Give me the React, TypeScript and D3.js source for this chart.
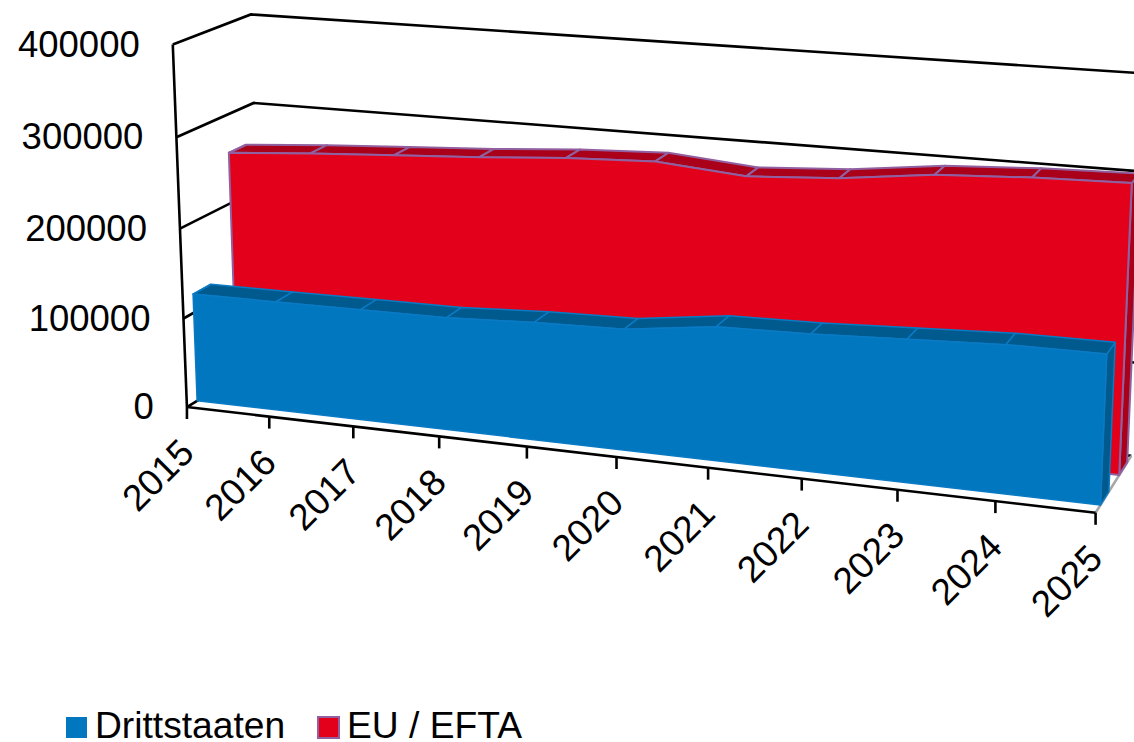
import React from "react";
import * as d3 from "d3";

const years = ["2015","2016","2017","2018","2019","2020","2021","2022","2023","2024","2025"];
const drittstaaten = [121000,121600,122500,123300,128000,130500,143000,145000,149500,154000,154500];
const euEfta = [257000,264000,269500,275000,282000,286000,278000,284000,295500,300500,303000];
const valueTicks = [0,100000,200000,300000,400000];
const legendNames = ["Drittstaaten","EU / EFTA"];

const W = 1134, H = 742;
const FONT = "'Liberation Sans', Arial, sans-serif";
const FS = 36.5;
const LEGEND_FS = 37.2;

// Camera calibration: box corners (x 0..1, value 0..1, depth 0..1) -> screen
const calibration: [number,number,number,number,number][] = [
  [0,0,0,189,406],[0,1,0,171,42],[1,0,0,1094,513],[1,1,0,1118,118],
  [0,0,1,261,366],[0,1,1,253,14],[1,0,1,1136,454],[1,1,1,1142,70],
  [0.2,0,0,353,425],[0.5,0,0,615,456],[0.8,0,0,895,489],
];

function solve(A:number[][], b:number[]):number[]{
  const n=b.length; const M=A.map((r,i)=>[...r,b[i]]);
  for(let c=0;c<n;c++){
    let p=c; for(let r=c+1;r<n;r++) if(Math.abs(M[r][c])>Math.abs(M[p][c])) p=r;
    [M[c],M[p]]=[M[p],M[c]];
    for(let r=0;r<n;r++){ if(r===c) continue; const f=M[r][c]/M[c][c];
      for(let k=c;k<=n;k++) M[r][k]-=f*M[c][k]; }
  }
  return M.map((r,i)=>r[n]/r[i]);
}
function fitCamera(){
  const rows:number[][]=[]; const rhs:number[]=[];
  for(const [x,y,z,u,v] of calibration){
    rows.push([x,y,z,1,0,0,0,0,-u*x,-u*y,-u*z]); rhs.push(u);
    rows.push([0,0,0,0,x,y,z,1,-v*x,-v*y,-v*z]); rhs.push(v);
  }
  const n=11; const A=d3.range(n).map(i=>d3.range(n).map(j=>d3.sum(rows,r=>r[i]*r[j])));
  const b=d3.range(n).map(i=>d3.sum(rows,(r,k)=>r[i]*rhs[k]));
  return solve(A,b);
}
const P=fitCamera();
const project=(x:number,y:number,z:number):[number,number]=>{
  const w=P[8]*x+P[9]*y+P[10]*z+1;
  return [(P[0]*x+P[1]*y+P[2]*z+P[3])/w,(P[4]*x+P[5]*y+P[6]*z+P[7])/w];
};

const xS=d3.scalePoint<string>().domain(years).range([0,1]);
const yS=d3.scaleLinear().domain([0,400000]).range([0,1]);
const line=d3.line();

const BLUE={front:"#0077BF",top:"#005A8E",side:"#005A8E",edge:"#0A7AC4",z0:0.13,z1:0.36,sw:1.5};
const RED={front:"#E2001A",top:"#AB0019",side:"#AB0019",edge:"#9060A0",z0:0.65,z1:0.88,sw:2};

function AreaBlock({values,c}:{values:number[];c:typeof BLUE}){
  const f=(i:number,v:number,z:number)=>project(xS(years[i])!,yS(v),z);
  const frontTop=values.map((v,i)=>f(i,v,c.z0));
  const backTop=values.map((v,i)=>f(i,v,c.z1));
  const n=values.length-1;
  const frontPoly=[...frontTop,f(n,0,c.z0),f(0,0,c.z0)] as [number,number][];
  const side=[frontTop[n],backTop[n],f(n,0,c.z1),f(n,0,c.z0)] as [number,number][];
  const left=[frontTop[0],backTop[0]] as [number,number][];
  return <g strokeLinejoin="round">
    <path d={line(side)!+"Z"} fill={c.side} stroke={c.edge} strokeWidth={c.sw}/>
    {d3.range(n).map(i=>
      <path key={i} d={line([frontTop[i],frontTop[i+1],backTop[i+1],backTop[i]])!+"Z"} fill={c.top} stroke={c.edge} strokeWidth={c.sw}/>
    )}
    <path d={line(left)!} stroke={c.edge} strokeWidth={c.sw}/>
    <path d={line(frontPoly)!+"Z"} fill={c.front} stroke={c.edge} strokeWidth={c.sw}/>
  </g>;
}

export default function App(){
  const axisW=2.6;
  return <svg width={W} height={H} viewBox={`0 0 ${W} ${H}`}
    style={{position:"absolute",left:0,top:0,background:"#fff",fontFamily:FONT}}>
    {/* walls */}
    <g fill="none" stroke="#000" strokeWidth={axisW}>
      {valueTicks.map(v=>{
        const y=yS(v);
        return <path key={v} d={line([project(0,y,0),project(0,y,1),project(1,y,1)])!}/>;
      })}
      <path d={line([project(0,0,0),project(0,1,0)])!}/>
    </g>
    <path d={line([project(1,0,0),project(1,0,1)])!} stroke="#a6a6a6" strokeWidth={axisW} fill="none"/>
    <path d={line([project(0,0,0),project(1,0,0)])!} stroke="#000" strokeWidth={axisW} fill="none"/>
    {years.map(yr=>{
      const [x,y]=project(xS(yr)!,0,0);
      return <g key={yr}>
        <line x1={x} x2={x} y1={y} y2={y+12} stroke="#000" strokeWidth={axisW}/>
        <text transform={`translate(${x+9},${y+48}) rotate(-45)`} textAnchor="end" fontSize={FS+0.5} fill="#000">{yr}</text>
      </g>;
    })}
    <AreaBlock values={euEfta} c={RED}/>
    <AreaBlock values={drittstaaten} c={BLUE}/>
    {valueTicks.map(v=>{
      const [x,y]=project(0,yS(v),0);
      return <text key={v} x={x-33} y={y+12} textAnchor="end" fontSize={FS} fill="#000">{v}</text>;
    })}
    <g fontSize={LEGEND_FS} fill="#000">
      <rect x={66} y={717} width={21} height={21} fill={BLUE.front}/>
      <text x={95} y={738}>{legendNames[0]}</text>
      <rect x={318} y={717} width={21} height={21} fill={RED.front} stroke={RED.edge} strokeWidth={2}/>
      <text x={347} y={738}>{legendNames[1]}</text>
    </g>
  </svg>;
}
